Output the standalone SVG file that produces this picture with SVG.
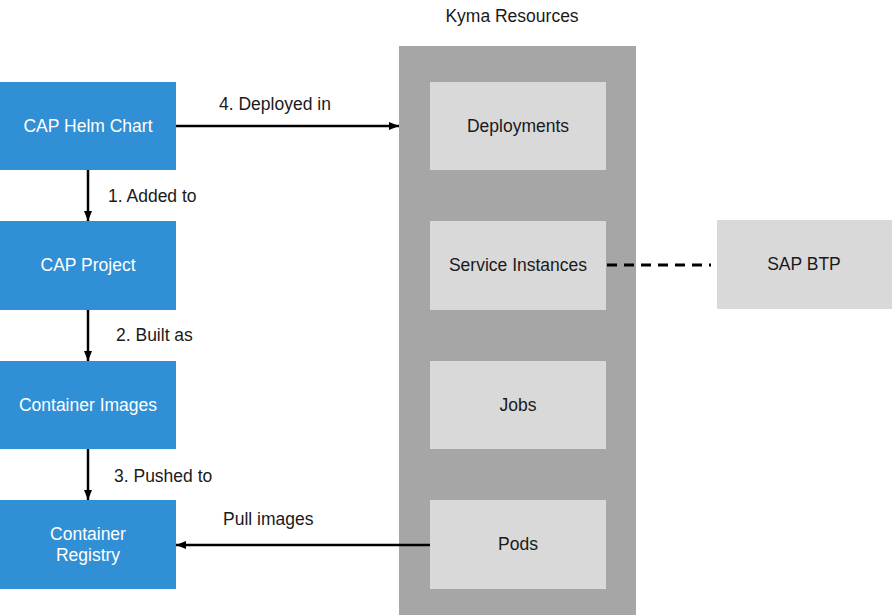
<svg xmlns="http://www.w3.org/2000/svg" width="892" height="615" viewBox="0 0 892 615">
<defs>
<style>
text{font-family:"Liberation Sans",Arial,sans-serif;font-size:17.5px;text-anchor:middle}
.blue{fill:#318fd5}
.wt{fill:#ffffff}
.dk{fill:#1a1a1a}
.inner{fill:#d9d9d9}
.edge{stroke:#000;stroke-width:2.5;fill:none}
.lbl{text-anchor:start;fill:#1a1a1a}
</style>
<marker id="ah" viewBox="0 0 10 10" refX="10" refY="5" markerWidth="4" markerHeight="4" orient="auto-start-reverse" markerUnits="strokeWidth">
<path d="M0,1 L10,5 L0,9 z" fill="#000"/>
</marker>
</defs>
<rect width="892" height="615" fill="#ffffff"/>
<g id="kyma">
<rect x="399" y="46" width="237" height="569" fill="#a6a6a6"/>
<text x="512" y="22" class="dk">Kyma Resources</text>
</g>
<g id="helm"><rect class="blue" x="0" y="82" width="176" height="88"/><text class="wt" x="88" y="132">CAP Helm Chart</text></g>
<g id="project"><rect class="blue" x="0" y="221" width="176" height="89"/><text class="wt" x="88" y="271">CAP Project</text></g>
<g id="images"><rect class="blue" x="0" y="361" width="176" height="88"/><text class="wt" x="88" y="411">Container Images</text></g>
<g id="registry"><rect class="blue" x="0" y="500" width="176" height="89"/><text class="wt" x="88" y="540">Container</text><text class="wt" x="88" y="561">Registry</text></g>
<g id="deployments"><rect class="inner" x="430" y="82" width="176" height="88"/><text class="dk" x="518" y="132">Deployments</text></g>
<g id="services"><rect class="inner" x="430" y="221" width="176" height="89"/><text class="dk" x="518" y="271">Service Instances</text></g>
<g id="jobs"><rect class="inner" x="430" y="361" width="176" height="88"/><text class="dk" x="518" y="411">Jobs</text></g>
<g id="pods"><rect class="inner" x="430" y="500" width="176" height="89"/><text class="dk" x="518" y="550">Pods</text></g>
<g id="btp"><rect class="inner" x="717" y="220" width="175" height="89"/><text class="dk" x="804" y="270">SAP BTP</text></g>
<g id="connectors">
<line class="edge" x1="176" y1="126" x2="399" y2="126" marker-end="url(#ah)"/>
<line class="edge" x1="88" y1="170" x2="88" y2="221" marker-end="url(#ah)"/>
<line class="edge" x1="88" y1="310" x2="88" y2="361" marker-end="url(#ah)"/>
<line class="edge" x1="88" y1="449" x2="88" y2="500" marker-end="url(#ah)"/>
<line class="edge" x1="430" y1="545" x2="176" y2="545" marker-end="url(#ah)"/>
<line x1="607" y1="265" x2="711" y2="265" stroke="#000" stroke-width="3" stroke-dasharray="10,7"/>
<text class="lbl" x="219" y="110">4. Deployed in</text>
<text class="lbl" x="108" y="202">1. Added to</text>
<text class="lbl" x="116" y="341">2. Built as</text>
<text class="lbl" x="114" y="482">3. Pushed to</text>
<text class="lbl" x="223" y="525">Pull images</text>
</g>
</svg>
